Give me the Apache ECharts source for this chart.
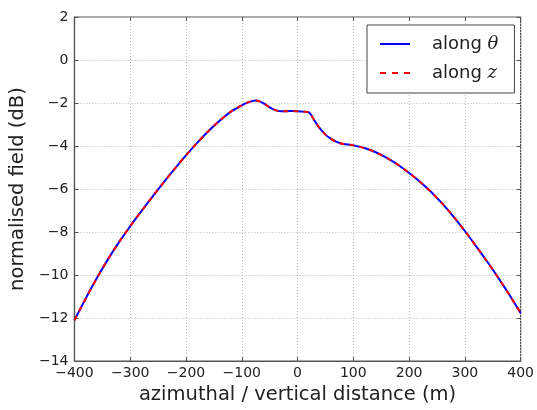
<!DOCTYPE html>
<html>
<head>
<meta charset="utf-8">
<script src="https://cdn.jsdelivr.net/npm/echarts@6/dist/echarts.min.js"></script>
<style>
html,body{margin:0;padding:0;background:#fff;}
#c{width:537px;height:410px;}
</style>
</head>
<body>
<div id="c"></div>
<script>
// distance (m)
var distance = [-400,-380,-360,-340,-320,-300,-280,-260,-240,-220,-200,-180,-160,-140,-120,-100,-90,-80,-75,-70,-60,-50,-40,-30,-20,-10,0,10,20,25,30,40,50,60,70,80,90,100,120,140,160,180,200,220,240,260,280,300,320,340,360,380,400];
// normalised field (dB) along theta
var alongTheta = [-12.10,-11.10,-10.15,-9.27,-8.47,-7.73,-7.03,-6.35,-5.69,-5.05,-4.43,-3.85,-3.31,-2.83,-2.41,-2.11,-1.98,-1.90,-1.88,-1.90,-2.03,-2.20,-2.33,-2.38,-2.38,-2.37,-2.38,-2.40,-2.43,-2.58,-2.80,-3.18,-3.47,-3.67,-3.81,-3.89,-3.93,-3.97,-4.09,-4.29,-4.55,-4.87,-5.25,-5.67,-6.15,-6.69,-7.29,-7.95,-8.65,-9.37,-10.13,-10.93,-11.77];
// normalised field (dB) along z
var alongZ = [-12.10,-11.10,-10.15,-9.27,-8.47,-7.73,-7.03,-6.35,-5.69,-5.05,-4.43,-3.85,-3.31,-2.83,-2.41,-2.11,-1.98,-1.90,-1.88,-1.90,-2.03,-2.20,-2.33,-2.38,-2.38,-2.37,-2.38,-2.40,-2.43,-2.58,-2.80,-3.18,-3.47,-3.67,-3.81,-3.89,-3.93,-3.97,-4.09,-4.29,-4.55,-4.87,-5.25,-5.67,-6.15,-6.69,-7.29,-7.95,-8.65,-9.37,-10.13,-10.93,-11.77];
var seriesNames = ['along θ', 'along z'];
var xLabel = 'azimuthal / vertical distance (m)';
var yLabel = 'normalised field (dB)';

function pairs(xs, ys){ return xs.map(function(x,i){ return [x, ys[i]]; }); }
function minus(v){ return String(v).replace('-', '\u2212'); }

var FONT = 'DejaVu Sans';
var chart = echarts.init(document.getElementById('c'), null, {renderer:'canvas'});
var gridLine = {show:true, lineStyle:{color:'#b8b8b8', type:[1,2], width:1}};
var tick = {show:true, inside:true, length:4, lineStyle:{color:'#555'}};
chart.setOption({
  animation:false,
  backgroundColor:'#fff',
  grid:{left:73, right:16, top:17, bottom:46, show:true, borderColor:'#555', borderWidth:1.2},
  xAxis:[{
    type:'value', min:-400, max:400, interval:100,
    name:xLabel, nameLocation:'middle', nameGap:22,
    nameTextStyle:{fontFamily:FONT, fontSize:19.5, color:'#222'},
    axisLine:{show:true, onZero:false, lineStyle:{color:'#555', width:1.2}},
    axisTick:tick, splitLine:gridLine,
    axisLabel:{fontFamily:FONT, fontSize:14, color:'#222', margin:5, formatter:minus}
  },{
    type:'value', min:-400, max:400, interval:100, position:'top',
    axisLine:{show:false, onZero:false}, axisTick:tick, axisLabel:{show:false}, splitLine:{show:false}
  }],
  yAxis:[{
    type:'value', min:-14, max:2, interval:2,
    name:yLabel, nameLocation:'middle', nameGap:37,
    nameTextStyle:{fontFamily:FONT, fontSize:19.5, color:'#222'},
    axisLine:{show:true, onZero:false, lineStyle:{color:'#555', width:1.2}},
    axisTick:tick, splitLine:gridLine,
    axisLabel:{fontFamily:FONT, fontSize:14, color:'#222', margin:6, formatter:minus}
  },{
    type:'value', min:-14, max:2, interval:2, position:'right',
    axisLine:{show:false, onZero:false}, axisTick:tick, axisLabel:{show:false}, splitLine:{show:false}
  }],
  legend:{
    orient:'vertical', left:367, top:25,
    padding:[8,16,9,13], itemGap:7,
    itemWidth:30, itemHeight:2,
    borderColor:'#444', borderWidth:1, backgroundColor:'#fff',
    textStyle:{fontFamily:FONT, fontSize:18, color:'#222', padding:[0,0,0,17], lineHeight:22,
      rich:{i:{fontFamily:'DejaVu Serif', fontStyle:'italic', fontSize:18, color:'#222', lineHeight:22}}},
    formatter:function(n){ var p = n.split(' '); return p[0] + ' {i|' + p[1] + '}'; },
    data:[
      {name:seriesNames[0], icon:'path://M0,0L30,0L30,2L0,2Z', itemStyle:{color:'#0000ff'}},
      {name:seriesNames[1], icon:'path://M0,0h6v2h-6zM12,0h6v2h-6zM24,0h6v2h-6z', itemStyle:{color:'#ff0000'}}
    ]
  },
  series:[
    {name:seriesNames[0], type:'line', data:pairs(distance, alongTheta), showSymbol:false, symbol:'none', smooth:0.3,
     lineStyle:{color:'#0000ff', width:2}, itemStyle:{color:'#0000ff'}, z:2},
    {name:seriesNames[1], type:'line', data:pairs(distance, alongZ), showSymbol:false, symbol:'none', smooth:0.3,
     lineStyle:{color:'#ff0000', width:2, type:[5,5]}, itemStyle:{color:'#ff0000'}, z:3}
  ]
});
</script>
</body>
</html>
